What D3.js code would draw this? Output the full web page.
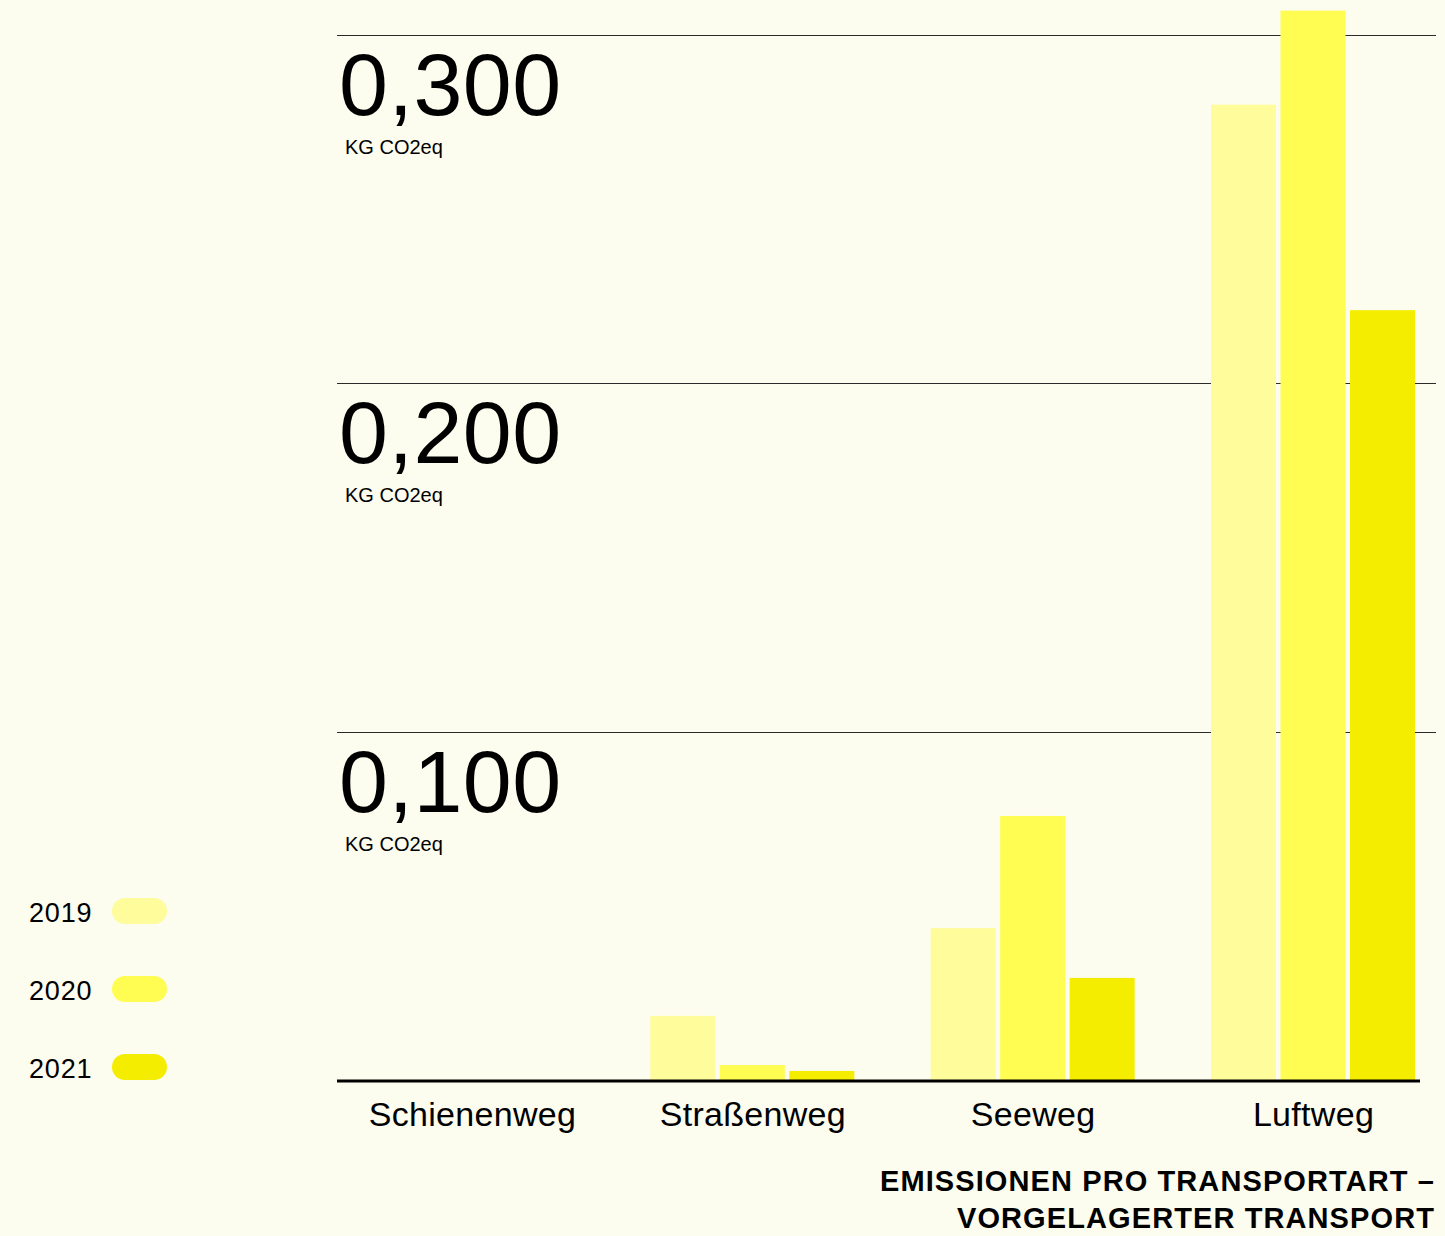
<!DOCTYPE html>
<html>
<head>
<meta charset="utf-8">
<script src="https://cdnjs.cloudflare.com/ajax/libs/d3/7.8.5/d3.min.js"></script>
<style>
	body { margin: 0; background: #fcfcef; }
	svg { display: block; font-family: "Liberation Sans", Arial, sans-serif; }
</style>
</head>
<body>
<svg id="chart"></svg>
<script>
//=================== DATA ====================================
var categories = ["Schienenweg", "Straßenweg", "Seeweg", "Luftweg"];
var years = ["2019", "2020", "2021"];
var values2019 = [0, 0.0184, 0.0436, 0.280];
var values2020 = [0, 0.0043, 0.0758, 0.307];
var values2021 = [0, 0.0026, 0.0293, 0.221];
var tickValues = [0.1, 0.2, 0.3];
var tickLabels = ["0,100", "0,200", "0,300"];
var unitLabel = "KG CO2eq";
var titleLines = ["EMISSIONEN PRO TRANSPORTART –", "VORGELAGERTER TRANSPORT"];

var series = [values2019, values2020, values2021];
var yearColours = ["#fffc9c", "#fffd52", "#f4ed00"];

//=================== SETUP ====================================
var svgWidth = 1445;
var svgHeight = 1236;
var plotLeft = 337, plotRight = 1436;

var svg = d3.select("#chart")
	.attr("width", svgWidth)
	.attr("height", svgHeight);

svg.append("rect")
	.attr("width", svgWidth)
	.attr("height", svgHeight)
	.attr("fill", "#fcfcef");

//scales
var yScale = d3.scaleLinear()
	.domain([0, 0.3])
	.range([1080, 35]);

var xScale = d3.scalePoint()
	.domain(categories)
	.range([472, 1313]);

var xInner = d3.scaleBand()
	.domain(years)
	.range([-102, 102])
	.paddingInner(0.065);

var colour = d3.scaleOrdinal()
	.domain(years)
	.range(yearColours);

//=================== GRID + TICK LABELS ====================================
var ticks = svg.append("g").selectAll("g")
	.data(tickValues)
	.enter().append("g")
	.attr("transform", function(d){ return "translate(0," + Math.round(yScale(d)) + ")"; });

ticks.append("line")
	.attr("x1", plotLeft)
	.attr("x2", plotRight)
	.attr("y1", 0.5)
	.attr("y2", 0.5)
	.attr("stroke", "#2b2b2b")
	.attr("stroke-width", 1)
	.attr("shape-rendering", "crispEdges");

ticks.append("text")
	.attr("x", 339)
	.attr("y", 80)
	.attr("font-size", 88)
	.attr("letter-spacing", 0.5)
	.attr("fill", "#000")
	.text(function(d, i){ return tickLabels[i]; });

ticks.append("text")
	.attr("x", 345)
	.attr("y", 119)
	.attr("font-size", 20)
	.attr("fill", "#000")
	.text(unitLabel);

//=================== BARS ====================================
var groups = svg.append("g").selectAll("g")
	.data(categories)
	.enter().append("g")
	.attr("transform", function(d){ return "translate(" + xScale(d) + ",0)"; });

groups.selectAll("rect")
	.data(function(d, ci){
		return years.map(function(y, yi){ return {year: y, value: series[yi][ci]}; });
	})
	.enter().append("rect")
	.attr("x", function(d){ return xInner(d.year); })
	.attr("width", xInner.bandwidth())
	.attr("y", function(d){ return yScale(d.value); })
	.attr("height", function(d){ return yScale(0) - yScale(d.value); })
	.attr("fill", function(d){ return colour(d.year); });

//baseline
svg.append("line")
	.attr("x1", plotLeft)
	.attr("x2", 1420)
	.attr("y1", yScale(0) + 1)
	.attr("y2", yScale(0) + 1)
	.attr("stroke", "#000")
	.attr("stroke-width", 3);

//category labels
var xAxis = d3.axisBottom(xScale).tickSize(0).tickPadding(0);
var axisG = svg.append("g")
	.attr("transform", "translate(0," + 1126 + ")")
	.call(xAxis);
axisG.select(".domain").remove();
axisG.selectAll("text")
	.attr("dy", 0)
	.attr("y", 0)
	.attr("font-size", 34)
	.attr("letter-spacing", 0.3)
	.attr("font-family", "Liberation Sans, Arial, sans-serif")
	.attr("fill", "#000");

//=================== LEGEND ====================================
var legend = svg.append("g").selectAll("g")
	.data(years)
	.enter().append("g")
	.attr("transform", function(d, i){ return "translate(0," + (922 + i * 78) + ")"; });

legend.append("text")
	.attr("x", 29)
	.attr("font-size", 27)
	.attr("letter-spacing", 0.8)
	.attr("fill", "#000")
	.text(function(d){ return d; });

legend.append("rect")
	.attr("x", 112)
	.attr("y", -24)
	.attr("width", 55)
	.attr("height", 26)
	.attr("rx", 13)
	.attr("fill", function(d){ return colour(d); });

//=================== TITLE ====================================
svg.append("g").selectAll("text")
	.data(titleLines)
	.enter().append("text")
	.attr("x", 1435)
	.attr("y", function(d, i){ return 1191 + i * 37; })
	.attr("text-anchor", "end")
	.attr("font-size", 29)
	.attr("letter-spacing", 1.1)
	.attr("font-weight", "bold")
	.attr("fill", "#000")
	.text(function(d){ return d; });
</script>
</body>
</html>
